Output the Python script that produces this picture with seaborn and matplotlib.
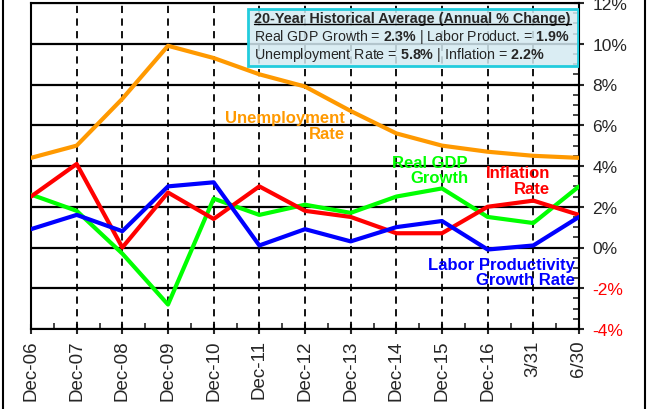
import matplotlib
matplotlib.use("Agg")
import matplotlib.pyplot as plt
import matplotlib.ticker as mticker
from matplotlib.patches import Rectangle
from matplotlib.lines import Line2D
import seaborn as sns
import pandas as pd
import numpy as np

categories = ["Dec-06", "Dec-07", "Dec-08", "Dec-09", "Dec-10", "Dec-11", "Dec-12",
              "Dec-13", "Dec-14", "Dec-15", "Dec-16", "3/31", "6/30"]
unemployment = [4.4, 5.0, 7.3, 9.9, 9.3, 8.5, 7.9, 6.7, 5.6, 5.0, 4.7, 4.5, 4.4]
real_gdp = [2.6, 1.8, -0.3, -2.8, 2.4, 1.6, 2.1, 1.7, 2.5, 2.9, 1.5, 1.2, 3.0]
inflation = [2.5, 4.1, 0.0, 2.7, 1.4, 3.0, 1.8, 1.5, 0.7, 0.7, 2.0, 2.3, 1.6]
labor_prod = [0.9, 1.6, 0.8, 3.0, 3.2, 0.1, 0.9, 0.3, 1.0, 1.3, -0.1, 0.1, 1.5]
y_ticks = [-4, -2, 0, 2, 4, 6, 8, 10, 12]

series_names = ["Unemployment Rate", "Real GDP Growth", "Inflation Rate", "Labor Productivity Growth Rate"]
colors = {"Unemployment Rate": "#FF9900", "Real GDP Growth": "#00FF00",
          "Inflation Rate": "#FF0000", "Labor Productivity Growth Rate": "#0000FF"}

rows = []
for name, vals in zip(series_names, [unemployment, real_gdp, inflation, labor_prod]):
    for i, v in enumerate(vals):
        rows.append({"idx": i, "value": v, "series": name})
df = pd.DataFrame(rows)

sns.set_style("white")
plt.rcParams["font.family"] = ["Liberation Sans", "DejaVu Sans"]
plt.rcParams["mathtext.fontset"] = "custom"
plt.rcParams["mathtext.rm"] = "Liberation Sans"
plt.rcParams["mathtext.bf"] = "Liberation Sans:bold"

fig = plt.figure(figsize=(6.5, 4.1), dpi=100)
ax = fig.add_axes([31/650, 1 - 330/410, (579-31)/650, (330-4)/410])

# grid
for yv in y_ticks:
    ax.axhline(yv, color="black", lw=1.6, zorder=1)
for i in range(len(categories)):
    ax.axvline(i, color="black", lw=1.3, ls=(0, (4, 3)), zorder=1)

sns.lineplot(data=df, x="idx", y="value", hue="series", palette=colors,
             hue_order=series_names, lw=3, ax=ax, legend=False, zorder=3,
             sort=False)

ax.set_xlim(0, len(categories) - 1)
ax.set_ylim(-4, 12)
ax.set_xticks(range(len(categories)))
ax.set_xticklabels(categories, rotation=90, fontsize=13.5)
ax.xaxis.set_minor_locator(mticker.MultipleLocator(0.5))
ax.set_xlabel("")
ax.set_ylabel("")

ax.yaxis.tick_right()
ax.set_yticks(y_ticks)
ax.set_yticklabels([f"{v}%" for v in y_ticks], fontsize=12.5)
for lbl, v in zip(ax.get_yticklabels(), y_ticks):
    if v < 0:
        lbl.set_color("#FF0000")
ax.yaxis.set_minor_locator(mticker.MultipleLocator(0.5))
ax.tick_params(axis="y", which="major", direction="inout", length=7, width=1.5,
               right=True, left=False, pad=6)
ax.tick_params(axis="y", which="minor", direction="in", length=4, width=1.2,
               right=True, left=False)
ax.tick_params(axis="x", which="major", direction="inout", length=7, width=1.5,
               bottom=True, pad=4)
ax.tick_params(axis="x", which="minor", direction="in", length=4, width=1.2,
               bottom=True)
for sp in ax.spines.values():
    sp.set_visible(True)
    sp.set_color("black")
    sp.set_linewidth(1.5)

# series labels
lab_kw = dict(fontsize=12, fontweight="bold", va="center",
              linespacing=1.05, zorder=4)
ax.text(6.87, 6.0, "Unemployment\nRate", color="#FF9900", ha="right", **lab_kw)
ax.text(9.57, 3.8, "Real GDP\nGrowth", color="#00FF00", ha="right", **lab_kw)
ax.text(11.36, 3.3, "Inflation\nRate", color="#FF0000", ha="right", **lab_kw)
ax.text(11.91, -1.2, "Labor Productivity\nGrowth Rate", color="#0000FF", ha="right", **lab_kw)

# info box
bx0, by0 = (248-31)/548, 1 - (67-4)/326
bw, bh = (578-248)/548, (67-10)/326
ax.add_patch(Rectangle((bx0, by0), bw, bh, transform=ax.transAxes,
                       facecolor="#d4eaf2", alpha=0.85, edgecolor="none", zorder=5))
ax.add_patch(Rectangle((bx0, by0), bw, bh, transform=ax.transAxes,
                       facecolor="none", edgecolor="#22CCDD", lw=2, zorder=6))
tx = bx0 + 6/548
t1 = ax.text(tx, 1 - (19-4)/326, "20-Year Historical Average (Annual % Change)",
             transform=ax.transAxes, fontsize=10.4, fontweight="bold", va="center",
             ha="left", zorder=7)
ax.text(tx, 1 - (37-4)/326,
        r"Real GDP Growth = $\mathbf{2.3\%}$ | Labor Product. = $\mathbf{1.9\%}$",
        transform=ax.transAxes, fontsize=10.2, va="center", ha="left", zorder=7)
ax.text(tx, 1 - (55-4)/326,
        r"Unemployment Rate = $\mathbf{5.8\%}$ | Inflation = $\mathbf{2.2\%}$",
        transform=ax.transAxes, fontsize=10.3, va="center", ha="left", zorder=7)

fig.canvas.draw()
bb = t1.get_window_extent()
inv = fig.transFigure.inverted()
(x0f, y0f) = inv.transform((bb.x0, bb.y0 + 1))
(x1f, _) = inv.transform((bb.x1, bb.y0 + 1))
fig.add_artist(Line2D([x0f, x1f], [y0f, y0f], color="black", lw=1.0, zorder=8))

# figure border sides
fig.add_artist(Line2D([3/650, 3/650], [0, 1], color="black", lw=1.5))
fig.add_artist(Line2D([645/650, 645/650], [0, 1], color="black", lw=1.5))

fig.savefig("out.png", dpi=100)
